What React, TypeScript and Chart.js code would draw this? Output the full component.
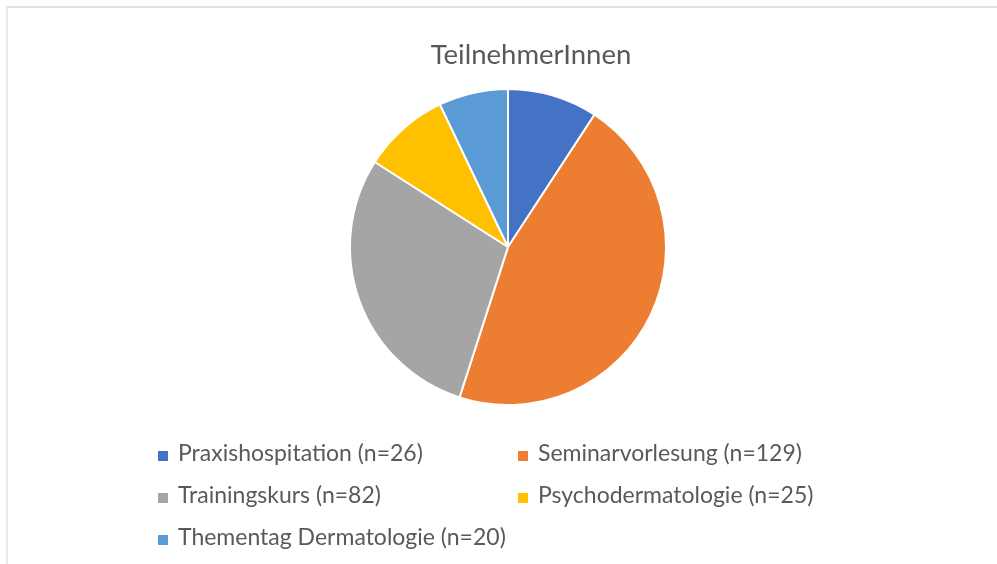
import React, { useEffect, useRef } from "react";
import { Chart, registerables } from "chart.js";

Chart.register(...registerables);

const chartTitle = "TeilnehmerInnen";
const categories = [
  "Praxishospitation",
  "Seminarvorlesung",
  "Trainingskurs",
  "Psychodermatologie",
  "Thementag Dermatologie",
];
const participants = [26, 129, 82, 25, 20];
const sliceColors = ["#4472C4", "#ED7D31", "#A5A5A5", "#FFC000", "#5B9BD5"];

const FONT = "Lato, 'Open Sans', sans-serif";

const overlayPlugin = {
  id: "overlay",
  afterDraw(chart: any) {
    const ctx = chart.ctx as CanvasRenderingContext2D;
    ctx.save();
    // title
    ctx.fillStyle = "#595959";
    ctx.font = `27.5px ${FONT}`;
    ctx.textAlign = "center";
    ctx.textBaseline = "alphabetic";
    ctx.fillText(chartTitle, 531, 64);

    // legend
    const labels: string[] = chart.data.labels;
    const ds = chart.data.datasets[0];
    const colX = [158, 518];
    const rowY = [461, 503, 545];
    ctx.font = `23px ${FONT}`;
    ctx.textAlign = "left";
    labels.forEach((lab, i) => {
      const col = i % 2;
      const row = Math.floor(i / 2);
      const x = colX[col];
      const y = rowY[row];
      ctx.fillStyle = ds.backgroundColor[i];
      ctx.fillRect(x, y - 10, 10, 10);
      ctx.fillStyle = "#595959";
      ctx.fillText(`${lab} (n=${ds.data[i]})`, x + 20, y);
    });
    ctx.restore();
  },
};

export default function App() {
  const ref = useRef<HTMLCanvasElement | null>(null);
  useEffect(() => {
    if (!ref.current) return;
    const chart = new Chart(ref.current, {
      type: "pie",
      data: {
        labels: categories,
        datasets: [
          {
            data: participants,
            backgroundColor: sliceColors,
            borderColor: "#ffffff",
            borderWidth: 2,
          },
        ],
      },
      options: {
        animation: false,
        responsive: false,
        maintainAspectRatio: false,
        layout: { padding: { top: 87, bottom: 157, left: 349, right: 330 } },
        plugins: {
          legend: { display: false },
          title: { display: false },
          tooltip: { enabled: false },
        },
      },
      plugins: [overlayPlugin],
    });
    return () => chart.destroy();
  }, []);

  return (
    <div
      style={{
        position: "fixed",
        left: 0,
        top: 0,
        width: 997,
        height: 564,
        background: "#ffffff",
        overflow: "hidden",
      }}
    >
      <div
        style={{
          position: "absolute",
          left: 6,
          top: 6,
          width: 1000,
          height: 600,
          borderTop: "2px solid #e2e2e2",
          borderLeft: "2px solid #e8e8e8",
          boxSizing: "border-box",
        }}
      />
      <canvas
        ref={ref}
        width={997}
        height={564}
        style={{ position: "absolute", left: 0, top: 0, width: 997, height: 564 }}
      />
    </div>
  );
}
